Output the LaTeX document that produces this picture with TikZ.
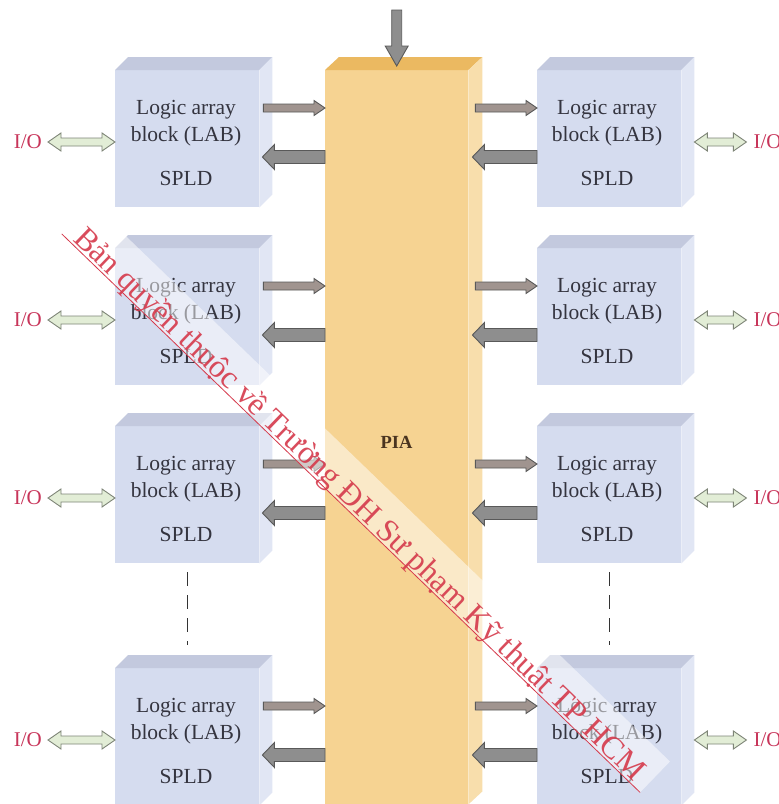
\documentclass[tikz,border=0pt]{standalone}
\usepackage{fontspec}
\setmainfont{Liberation Serif}
\usetikzlibrary{calc}
\definecolor{labfront}{HTML}{D5DCEF}
\definecolor{labtop}{HTML}{C3C9DE}
\definecolor{labside}{HTML}{E1E6F4}
\definecolor{piafront}{HTML}{F6D392}
\definecolor{piatop}{HTML}{EBB961}
\definecolor{piaside}{HTML}{F8DEAC}
\definecolor{thinfill}{HTML}{A0948F}
\definecolor{thickfill}{HTML}{8E8E8E}
\definecolor{arredge}{HTML}{595959}
\definecolor{iofill}{HTML}{E2EDD6}
\definecolor{ioedge}{HTML}{7E8577}
\definecolor{iored}{HTML}{C8355A}
\definecolor{labtext}{HTML}{34343F}
\definecolor{piatext}{HTML}{4A3420}
\definecolor{wmred}{HTML}{D5394B}
\tikzset{
  harr/.style n args={3}{to path={
    let \p1=(\tikztostart), \p2=(\tikztotarget), \n1={sign(\x2-\x1)} in
    (\x1,\y1+#1) -- (\x2-\n1*#3,\y1+#1) -- (\x2-\n1*#3,\y1+#2) -- (\x2,\y1)
    -- (\x2-\n1*#3,\y1-#2) -- (\x2-\n1*#3,\y1-#1) -- (\x1,\y1-#1) -- cycle}},
  dharr/.style n args={3}{to path={
    let \p1=(\tikztostart), \p2=(\tikztotarget), \n1={sign(\x2-\x1)} in
    (\x1,\y1) -- (\x1+\n1*#3,\y1+#2) -- (\x1+\n1*#3,\y1+#1) -- (\x2-\n1*#3,\y1+#1)
    -- (\x2-\n1*#3,\y1+#2) -- (\x2,\y1) -- (\x2-\n1*#3,\y1-#2) -- (\x2-\n1*#3,\y1-#1)
    -- (\x1+\n1*#3,\y1-#1) -- (\x1+\n1*#3,\y1-#2) -- cycle}},
  varr/.style n args={3}{to path={
    let \p1=(\tikztostart), \p2=(\tikztotarget), \n1={sign(\y2-\y1)} in
    (\x1+#1,\y1) -- (\x1+#1,\y2-\n1*#3) -- (\x1+#2,\y2-\n1*#3) -- (\x2,\y2)
    -- (\x1-#2,\y2-\n1*#3) -- (\x1-#1,\y2-\n1*#3) -- (\x1-#1,\y1) -- cycle}},
  thinarr/.style={harr={4pt}{7.5pt}{11pt}, fill=thinfill, draw=arredge, line width=0.9pt},
  thickarr/.style={harr={6.5pt}{12.5pt}{12pt}, fill=thickfill, draw=arredge, line width=0.9pt},
  ioarr/.style={dharr={4pt}{9pt}{13pt}, fill=iofill, draw=ioedge, line width=0.9pt},
  downarr/.style={varr={5pt}{11.5pt}{20pt}, fill=thickfill, draw=arredge, line width=0.9pt},
  labbox/.style={fill=labfront, minimum width=144pt, minimum height=137pt, inner sep=0pt, anchor=north west},
  labtxt/.style={text=labtext, font=\fontsize{21.5}{25}\selectfont, anchor=base, inner sep=0pt},
  iotxt/.style={text=iored, font=\fontsize{21}{25}\selectfont, inner sep=0pt},
  piatxt/.style={text=piatext, font=\fontsize{18.5}{22}\selectfont\bfseries, anchor=base, inner sep=0pt},
  dashline/.style={draw=black!80, line width=1pt, dash pattern=on 14pt off 9pt},
  wmtxt/.style={text=wmred, text opacity=0.9, font=\fontsize{32}{36}\selectfont, anchor=base, inner sep=0pt},
}
\begin{document}
\begin{tikzpicture}[x=1pt,y=-1pt]
\useasboundingbox (0,0) rectangle (779,804);
\clip (0,0) rectangle (779,804);
\fill[white] (0,0) rectangle (779,804);
% PIA column
\node[fill=piafront, minimum width=143pt, minimum height=734pt, inner sep=0pt, anchor=north west] (PIA) at (325,70) {};
\fill[piatop] (PIA.north west) -- ++(14,-13) -- ([shift={(14,-13)}]PIA.north east) -- (PIA.north east) -- cycle;
\fill[piaside] (PIA.north east) -- ++(14,-13) -- ([shift={(14,-13)}]PIA.south east) -- (PIA.south east) -- cycle;
\node[piatxt] (PIAlabel) at (396.5,448) {PIA};
\coordinate (PIAr) at ([xshift=6pt]PIA.east);
\coordinate (intop) at ([yshift=60pt]PIA.north);
\draw[downarr] (intop) to ([yshift=4pt]PIA.north);
% LAB blocks
\foreach \i/\T in {1/57,2/235,3/413,4/655}{
  \node[labbox] (L\i) at (115,\T+13) {};
  \fill[labtop] (L\i.north west) -- ++(13,-13) -- ([shift={(13,-13)}]L\i.north east) -- (L\i.north east) -- cycle;
  \fill[labside] (L\i.north east) -- ++(13,-13) -- ([shift={(13,-13)}]L\i.south east) -- (L\i.south east) -- cycle;
  \node[labbox] (R\i) at (537,\T+13) {};
  \fill[labtop] (R\i.north west) -- ++(13,-13) -- ([shift={(13,-13)}]R\i.north east) -- (R\i.north east) -- cycle;
  \fill[labside] (R\i.north east) -- ++(13,-13) -- ([shift={(13,-13)}]R\i.south east) -- (R\i.south east) -- cycle;
  \node[labtxt] (L\i-a) at (186,\T+57) {Logic array};
  \node[labtxt] (L\i-b) at (186,\T+84) {block (LAB)};
  \node[labtxt] (L\i-c) at (186,\T+128) {SPLD};
  \node[labtxt] (R\i-a) at (607,\T+57) {Logic array};
  \node[labtxt] (R\i-b) at (607,\T+84) {block (LAB)};
  \node[labtxt] (R\i-c) at (607,\T+128) {SPLD};
  % arrows to/from PIA
  \coordinate (lu\i) at ([xshift=4pt,yshift=-38pt]L\i.north east);
  \coordinate (ll\i) at ([xshift=3pt,yshift=-87pt]L\i.north east);
  \coordinate (ru\i) at ([yshift=-38pt]R\i.north west);
  \coordinate (rl\i) at ([yshift=-87pt]R\i.north west);
  \draw[thinarr] (lu\i) to (PIA.west |- lu\i);
  \draw[thickarr] (PIA.west |- ll\i) to (ll\i);
  \draw[thinarr] ([xshift=1pt]PIAr |- ru\i) to (ru\i);
  \draw[thickarr] (rl\i) to ([xshift=-2pt]PIAr |- rl\i);
  % I/O
  \coordinate (iol\i) at ([yshift=-72pt]L\i.north west);
  \coordinate (ior\i) at ([xshift=13pt,yshift=-72pt]R\i.north east);
  \node[iotxt, anchor=east] (IOL\i) at ([xshift=-73pt]iol\i) {I/O};
  \node[iotxt, anchor=west] (IOR\i) at ([xshift=59pt]ior\i) {I/O};
  \draw[ioarr] ([xshift=6pt]IOL\i.east) to (iol\i);
  \draw[ioarr] (ior\i) to ([xshift=-7pt]IOR\i.west);
}
\draw[dashline] ([yshift=-9pt]L3.south) -- ([yshift=23pt]L4.north);
\draw[dashline] ([yshift=-9pt]R3.south) -- ([yshift=23pt]R4.north);
% watermark
\begin{scope}[shift={(353,511)}, rotate=-44]
  \fill[white, opacity=0.5] (-395pt,-3pt) rectangle (402pt,40pt);
  \draw[wmred, line width=0.8pt] (-402pt,-3pt) -- (402pt,-3pt);
  \node[wmtxt, rotate=-44] (wm) at (0pt,0pt) {Bản quyền thuộc về Trường ĐH Sư phạm Kỹ thuật TP HCM};
\end{scope}
\end{tikzpicture}
\end{document}
